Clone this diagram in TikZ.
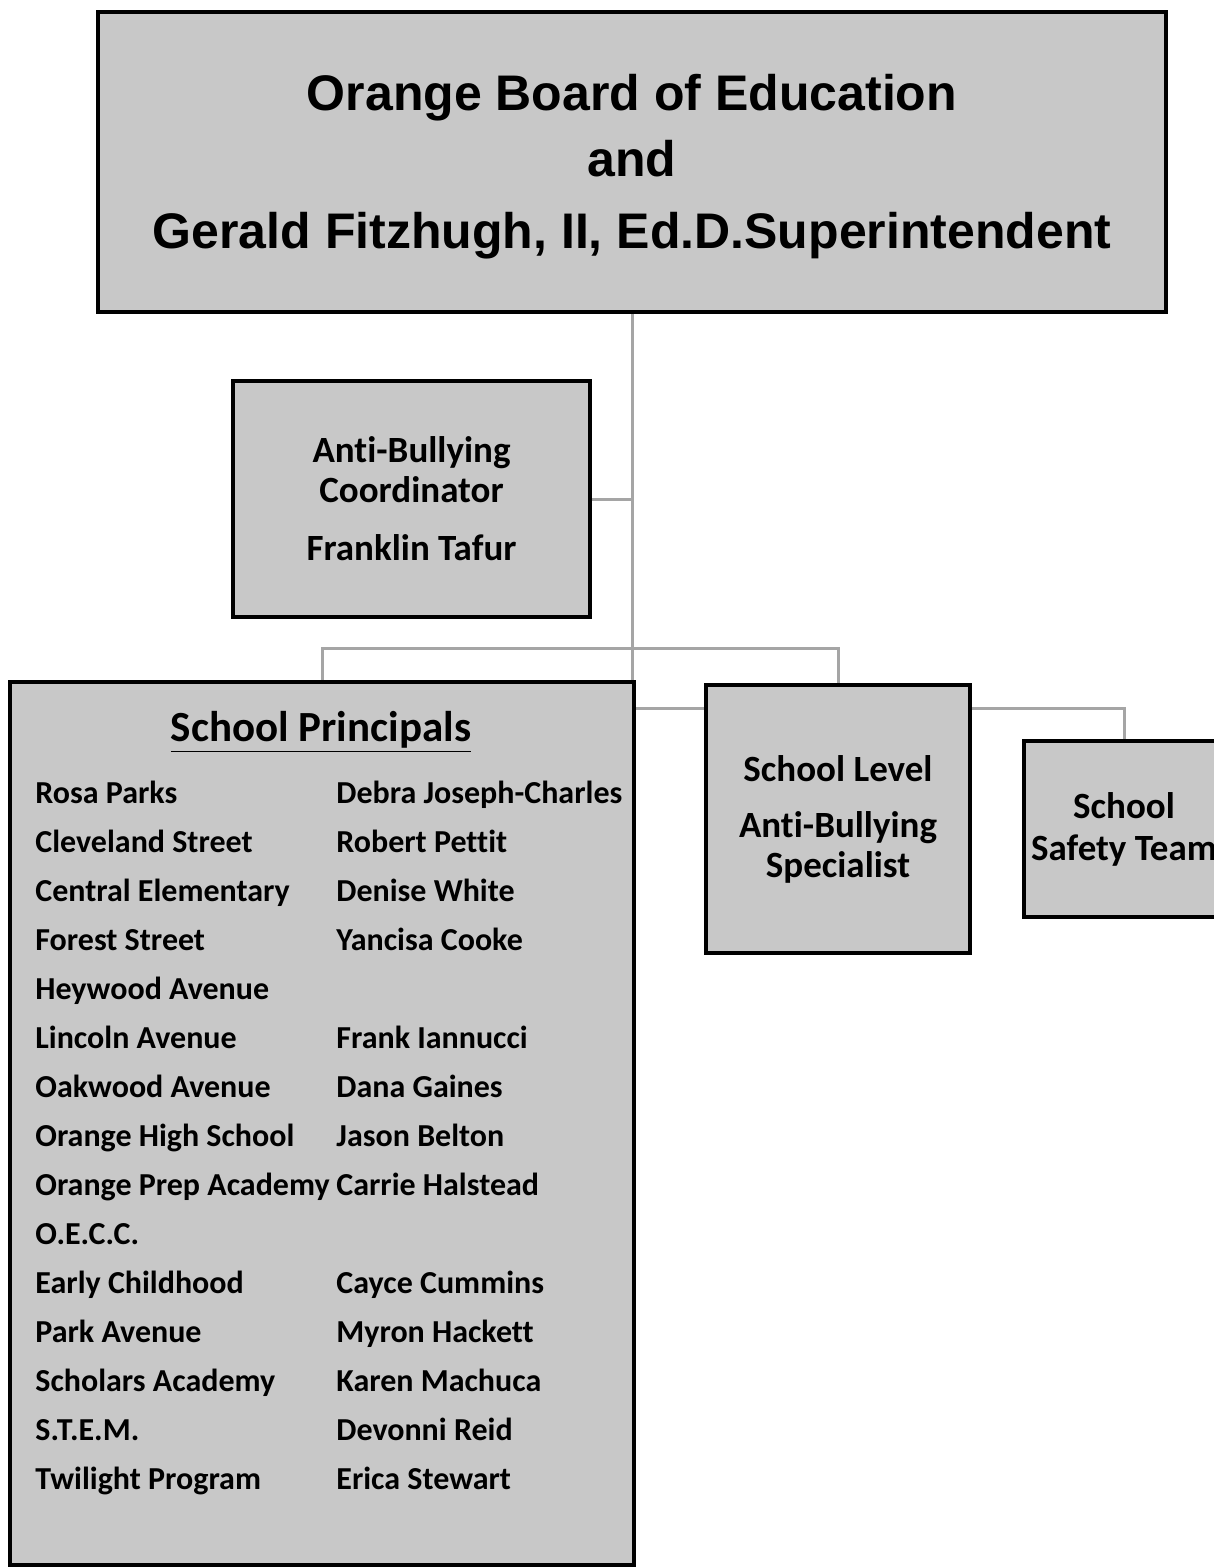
\documentclass[tikz,border=0pt]{standalone}
\usepackage{fontspec}
\setmainfont{Carlito}[Ligatures=NoCommon]
\newfontfamily\arialfont{Liberation Sans}
\usetikzlibrary{backgrounds}

\definecolor{boxgray}{RGB}{200,200,200}
\definecolor{linegray}{RGB}{165,165,165}

\tikzset{
  orgbox/.style={draw=black, line width=2pt, fill=boxgray, align=center, inner sep=0pt},
  conn/.style={draw=linegray, line width=1.5pt},
}

\begin{document}
\begin{tikzpicture}[x=0.5pt,y=-0.5pt]
	\useasboundingbox (0,0) rectangle (1214,1568);
	% board and superintendent
	\node[orgbox, minimum width=534pt, minimum height=150pt,
	      font=\arialfont\bfseries\fontsize{25}{34.5}\selectfont] (board) at (632,162)
	      {\rule{0pt}{23pt}Orange Board of Education\\[-1.5pt]and\\[1.5pt]Gerald Fitzhugh, II, Ed.D.Superintendent};
	% coordinator
	\node[orgbox, minimum width=178.5pt, minimum height=118pt,
	      font=\bfseries\fontsize{18.5}{20}\selectfont] (coord) at (411.5,499)
	      {Anti-Bullying\\Coordinator\\[9pt]Franklin Tafur};
	% principals
	\node[orgbox, minimum width=312pt, minimum height=441.5pt] (princ) at (322,1123.5) {};
	\node[font=\bfseries\fontsize{21.5}{26}\selectfont, inner sep=0pt] (phead) at (321,732)
	      {\underline{School Principals}};
	\node[anchor=base west, inner sep=0pt, font=\bfseries\fontsize{16}{24.5}\selectfont] (plist) at (35,803)
	      {\begin{tabular}[t]{@{}p{150.5pt}@{}l@{}}
	        Rosa Parks & Debra Joseph-Charles\\
	        Cleveland Street & Robert Pettit\\
	        Central Elementary & Denise White\\
	        Forest Street & Yancisa Cooke\\
	        Heywood Avenue & \\
	        Lincoln Avenue & Frank Iannucci\\
	        Oakwood Avenue & Dana Gaines\\
	        Orange High School & Jason Belton\\
	        Orange Prep Academy & Carrie Halstead\\
	        O.E.C.C. & \\
	        Early Childhood & Cayce Cummins\\
	        Park Avenue & Myron Hackett\\
	        Scholars Academy & Karen Machuca\\
	        S.T.E.M. & Devonni Reid\\
	        Twilight Program & Erica Stewart
	      \end{tabular}};
	% specialist and safety team
	\node[orgbox, minimum width=132pt, minimum height=134pt,
	      font=\bfseries\fontsize{18.5}{20}\selectfont] (spec) at (838,819)
	      {School Level\\[8pt]Anti-Bullying\\Specialist};
	\node[orgbox, minimum width=100pt, minimum height=88pt,
	      font=\bfseries\fontsize{18.5}{21}\selectfont] (safety) at (1124,829)
	      {School\\Safety Team};
	% connectors
	\coordinate (hub) at (632,648);
	\coordinate (tr) at (632,708);
	\begin{scope}[on background layer]
	\draw[conn] (board.south) -- (tr) -| (safety.north);
	\draw[conn] (coord.east) -- (coord.east -| board.south);
	\draw[conn] (princ.north) |- (hub) -| (spec.north);
	\end{scope}
\end{tikzpicture}
\end{document}
